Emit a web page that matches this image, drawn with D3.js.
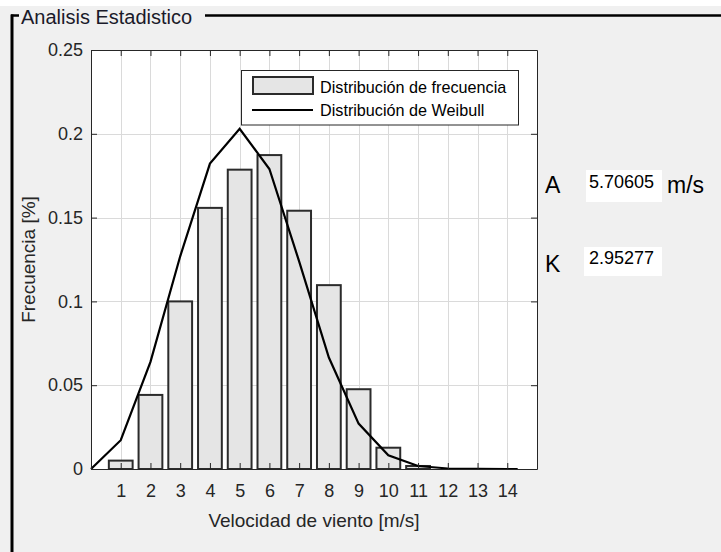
<!DOCTYPE html>
<html>
<head>
<meta charset="utf-8">
<script src="https://cdn.jsdelivr.net/npm/d3@7/dist/d3.min.js"></script>
<style>
  html, body { margin: 0; padding: 0; background: #f0f0f0; }
  svg { display: block; font-family: "Liberation Sans", Arial, sans-serif; }
</style>
</head>
<body>
<svg id="chart" width="721" height="552"></svg>
<script>
// Wind speed bins [m/s] and observed relative frequency
const speeds = [1, 2, 3, 4, 5, 6, 7, 8, 9, 10, 11, 12, 13, 14];
const frequency = [0.005, 0.0442, 0.1, 0.1558, 0.1786, 0.1873, 0.1541, 0.1097, 0.0476, 0.0127, 0.0018, 0, 0, 0];

// Fitted Weibull density evaluated along the speed range
const weibullSpeeds = [0, 1, 2, 3, 4, 5, 6, 7, 8, 9, 10, 11, 12, 13, 14, 14.35];
const weibullDensity = [0, 0.0172, 0.0639, 0.1269, 0.1822, 0.2030, 0.1790, 0.1239, 0.0665, 0.0271, 0.0082, 0.0018, 0.0003, 0.00003, 0.000002, 0.000001];

// Axis ticks
const xTicks = [1, 2, 3, 4, 5, 6, 7, 8, 9, 10, 11, 12, 13, 14];
const yTicks = [0, 0.05, 0.1, 0.15, 0.2, 0.25];
const yTickLabels = ["0", "0.05", "0.1", "0.15", "0.2", "0.25"];

// Fit parameters
const scaleA = "5.70605";
const shapeK = "2.95277";

const svg = d3.select("#chart");
const W = 721, H = 552;

// Panel background and frame
svg.append("rect").attr("width", W).attr("height", H).attr("fill", "#f0f0f0");
svg.append("rect").attr("width", W).attr("height", 6).attr("fill", "#ffffff");

const frame = svg.append("g").attr("stroke", "#000").attr("fill", "none");
frame.append("line").attr("x1", 12).attr("x2", 12).attr("y1", 14.5).attr("y2", H).attr("stroke-width", 3);
frame.append("line").attr("x1", 11).attr("x2", 19).attr("y1", 15.5).attr("y2", 15.5).attr("stroke-width", 2.5);
frame.append("line").attr("x1", 205).attr("x2", W).attr("y1", 15.5).attr("y2", 15.5).attr("stroke-width", 2.5);

svg.append("text")
  .attr("x", 21).attr("y", 24)
  .attr("font-size", 20).attr("fill", "#1a1a2a")
  .text("Analisis Estadistico");

// Plot area
const plot = { left: 91, right: 537, top: 50, bottom: 469 };
const x = d3.scaleLinear().domain([0, 15]).range([plot.left, plot.right]);
const y = d3.scaleLinear().domain([0, 0.25]).range([plot.bottom, plot.top]);

svg.append("rect")
  .attr("x", plot.left).attr("y", plot.top)
  .attr("width", plot.right - plot.left).attr("height", plot.bottom - plot.top)
  .attr("fill", "#ffffff");

// Grid
const grid = svg.append("g").attr("stroke", "#dadada").attr("stroke-width", 1);
grid.selectAll(".gx").data(xTicks).join("line")
  .attr("x1", d => Math.round(x(d)) + 0.5).attr("x2", d => Math.round(x(d)) + 0.5)
  .attr("y1", plot.top).attr("y2", plot.bottom);
grid.selectAll(".gy").data(yTicks.slice(1, -1)).join("line")
  .attr("x1", plot.left).attr("x2", plot.right)
  .attr("y1", d => Math.round(y(d)) + 0.5).attr("y2", d => Math.round(y(d)) + 0.5);

// Frequency bars
const barWidth = 0.8;
svg.append("g").selectAll("rect").data(speeds.map((s, i) => ({ s, f: frequency[i] })).filter(d => d.f > 0))
  .join("rect")
  .attr("x", d => x(d.s - barWidth / 2))
  .attr("width", d => x(d.s + barWidth / 2) - x(d.s - barWidth / 2))
  .attr("y", d => y(d.f))
  .attr("height", d => y(0) - y(d.f))
  .attr("fill", "#e5e5e5")
  .attr("stroke", "#2b2b2b")
  .attr("stroke-width", 2);

// Weibull curve
const line = d3.line().x(d => x(d[0])).y(d => y(d[1]));
svg.append("path")
  .datum(weibullSpeeds.map((s, i) => [s, weibullDensity[i]]))
  .attr("d", line)
  .attr("fill", "none")
  .attr("stroke", "#000")
  .attr("stroke-width", 2.2)
  .attr("stroke-linejoin", "miter");

// Axes (ticks pointing inwards, box on all sides)
const axisColor = "#262626";
const tickLen = 6;
const bottomAxis = d3.axisBottom(x).tickValues(xTicks).tickSizeInner(-tickLen).tickSizeOuter(0).tickPadding(15);
const leftAxis = d3.axisLeft(y).tickValues(yTicks).tickSizeInner(-tickLen).tickSizeOuter(0).tickPadding(8)
  .tickFormat((d, i) => yTickLabels[i]);
const topAxis = d3.axisTop(x).tickValues(xTicks).tickSizeInner(-tickLen).tickSizeOuter(0).tickFormat("");
const rightAxis = d3.axisRight(y).tickValues(yTicks).tickSizeInner(-tickLen).tickSizeOuter(0).tickFormat("");

function styleAxis(g) {
  g.select(".domain").attr("stroke", axisColor).attr("stroke-width", 1);
  g.selectAll(".tick line").attr("stroke", axisColor);
  g.selectAll(".tick text").attr("fill", "#262626").attr("font-size", 18)
    .attr("font-family", "'Liberation Sans', Arial, sans-serif");
}

svg.append("g").attr("transform", `translate(0,${plot.bottom})`).call(bottomAxis).call(styleAxis);
svg.append("g").attr("transform", `translate(${plot.left},0)`).call(leftAxis).call(styleAxis);
svg.append("g").attr("transform", `translate(0,${plot.top})`).call(topAxis).call(styleAxis);
svg.append("g").attr("transform", `translate(${plot.right},0)`).call(rightAxis).call(styleAxis);

// Axis labels
svg.append("text")
  .attr("x", (plot.left + plot.right) / 2).attr("y", 527)
  .attr("text-anchor", "middle").attr("font-size", 19).attr("fill", "#262626")
  .text("Velocidad de viento [m/s]");
svg.append("text")
  .attr("transform", `translate(35,${(plot.top + plot.bottom) / 2}) rotate(-90)`)
  .attr("text-anchor", "middle").attr("font-size", 19).attr("fill", "#262626")
  .text("Frecuencia [%]");

// Legend
const lg = svg.append("g");
lg.append("rect").attr("x", 241.5).attr("y", 70.5).attr("width", 277).attr("height", 54.5)
  .attr("fill", "#fff").attr("stroke", axisColor).attr("stroke-width", 1);
lg.append("rect").attr("x", 253).attr("y", 77).attr("width", 60).attr("height", 17)
  .attr("fill", "#e5e5e5").attr("stroke", "#2b2b2b").attr("stroke-width", 2);
lg.append("line").attr("x1", 252).attr("x2", 313).attr("y1", 110).attr("y2", 110)
  .attr("stroke", "#000").attr("stroke-width", 2.2);
lg.append("text").attr("x", 320).attr("y", 93).attr("font-size", 16.2).attr("fill", "#000")
  .text("Distribución de frecuencia");
lg.append("text").attr("x", 320).attr("y", 116).attr("font-size", 16.2).attr("fill", "#000")
  .text("Distribución de Weibull");

// Fit parameter fields
const params = svg.append("g");
params.append("text").attr("x", 545).attr("y", 193).attr("font-size", 23).attr("fill", "#000").text("A");
params.append("rect").attr("x", 586).attr("y", 170).attr("width", 76).attr("height", 32).attr("fill", "#fff");
params.append("text").attr("x", 589).attr("y", 188).attr("font-size", 18).attr("fill", "#000").text(scaleA);
params.append("text").attr("x", 667).attr("y", 193).attr("font-size", 23).attr("fill", "#000").text("m/s");

params.append("text").attr("x", 545).attr("y", 272).attr("font-size", 23).attr("fill", "#000").text("K");
params.append("rect").attr("x", 584).attr("y", 247).attr("width", 78).attr("height", 29).attr("fill", "#fff");
params.append("text").attr("x", 589).attr("y", 264).attr("font-size", 18).attr("fill", "#000").text(shapeK);
</script>
</body>
</html>
